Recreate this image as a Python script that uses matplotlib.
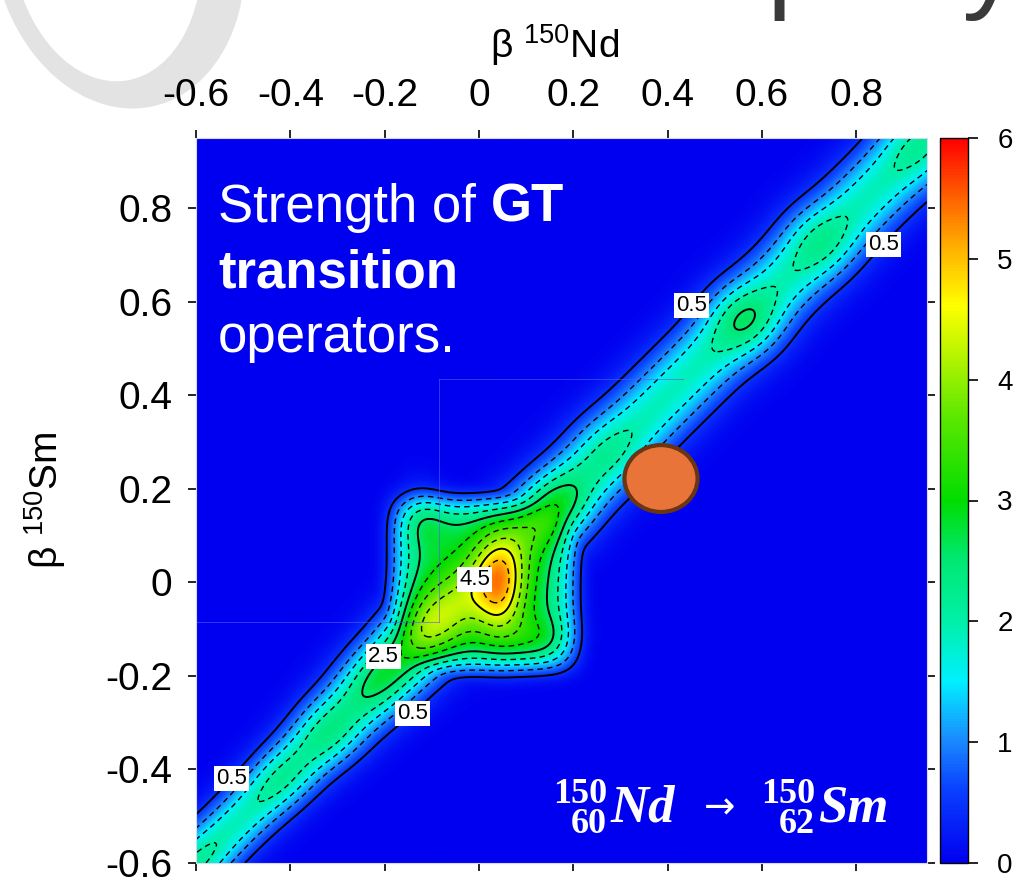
import numpy as np
import matplotlib
matplotlib.use("Agg")
import matplotlib.pyplot as plt
from matplotlib.colors import LinearSegmentedColormap
from matplotlib.patches import Ellipse

# ---------------- data ----------------
x_ticks = [-0.6, -0.4, -0.2, 0, 0.2, 0.4, 0.6, 0.8]
x_tick_labels = ["-0.6", "-0.4", "-0.2", "0", "0.2", "0.4", "0.6", "0.8"]
y_ticks = [-0.6, -0.4, -0.2, 0, 0.2, 0.4, 0.6, 0.8]
y_tick_labels = ["-0.6", "-0.4", "-0.2", "0", "0.2", "0.4", "0.6", "0.8"]
cbar_ticks = [0, 1, 2, 3, 4, 5, 6]
beta_range = [-0.6, 0.95]
dashed_levels = [1.0, 1.5, 2.0, 3.0, 3.5, 4.0, 5.0]
solid_levels = [0.5, 2.5, 4.5]

# diagonal ridge (strength ~1.9) and the local maxima sitting on it
ridge_height = 1.88
ridge_halfwidth_lowleft = 0.062
ridge_halfwidth_upright = 0.082
bump_x = [-0.60, -0.42, -0.32, 0.27, 0.565, 0.72, 0.93]
bump_y = [-0.60, -0.42, -0.32, 0.28, 0.56, 0.73, 0.93]
bump_h = [0.25, 0.30, 0.45, 0.30, 0.72, 0.42, 0.30]

# central plateau around beta ~ 0 (square-shaped, strength ~2.6)
plateau_centre = (0.01, -0.005)
plateau_height = 2.6
plateau_halfwidth = (0.19, 0.18)

# central peaks: x0, y0, height, width along, width across, orientation (deg)
peak_x0 = [-0.03, -0.22, 0.16, 0.045, -0.11, -0.12, 0.13]
peak_y0 = [-0.03, -0.21, 0.16, -0.01, -0.09, 0.15, -0.12]
peak_h = [0.9, 0.6, 0.95, 2.0, 0.85, 0.5, 0.5]
peak_w_along = [0.20, 0.08, 0.08, 0.11, 0.11, 0.07, 0.07]
peak_w_across = [0.08, 0.07, 0.07, 0.055, 0.07, 0.05, 0.05]
peak_angle = [45, 45, 45, 90, 45, 100, 10]

# contour label anchor points
label_pts = {0.5: [(0.86, 0.72), (0.467, 0.58), (-0.139, -0.283), (-0.53, -0.415)],
             2.5: [(-0.203, -0.157)],
             4.5: [(-0.017, 0.01)]}

# ---------------- build surface ----------------
gx = np.linspace(beta_range[0], beta_range[1], 500)
gy = np.linspace(beta_range[0], beta_range[1], 500)
X, Y = np.meshgrid(gx, gy)
U_diag = (X + Y) / np.sqrt(2)
ridge_w = (0.5 * (ridge_halfwidth_lowleft + ridge_halfwidth_upright)
           + 0.5 * (ridge_halfwidth_upright - ridge_halfwidth_lowleft)
           * np.tanh((U_diag + 0.45) / 0.2))


def comp(x0, y0, h, wa, wc, ang, pa=2.0, pc=2.0):
    th = np.deg2rad(ang)
    dx, dy = X - x0, Y - y0
    u = dx * np.cos(th) + dy * np.sin(th)
    v = -dx * np.sin(th) + dy * np.cos(th)
    return h * np.exp(-(np.abs(u) / wa) ** pa - (np.abs(v) / wc) ** pc)


R = comp(0, 0, ridge_height, 1e3, ridge_w, 45)
for bx, by, bh in zip(bump_x, bump_y, bump_h):
    R += comp(bx, by, bh, 0.07, ridge_w, 45)
S = comp(plateau_centre[0], plateau_centre[1], plateau_height,
         plateau_halfwidth[0], plateau_halfwidth[1], 0, 6.5, 6.5)
Z = (R ** 4 + S ** 4) ** (1 / 4)
for args in zip(peak_x0, peak_y0, peak_h, peak_w_along, peak_w_across, peak_angle):
    Z += comp(*args)

cmap = LinearSegmentedColormap.from_list(
    "gt",
    [(0.0, "#0000f0"), (0.1, "#0a40ff"), (0.17, "#1a8cff"), (0.25, "#00f0ff"),
     (0.333, "#00f0a8"), (0.42, "#00e870"), (0.5, "#00dd00"), (0.62, "#60e800"),
     (0.77, "#ffff00"), (0.85, "#ffb000"), (0.92, "#ff6000"), (1.0, "#ff0000")])

plt.rcParams["font.family"] = ["Liberation Sans", "DejaVu Sans"]
plt.rcParams["mathtext.fontset"] = "custom"
plt.rcParams["mathtext.rm"] = "Liberation Sans"
plt.rcParams["mathtext.it"] = "Liberation Sans:italic"
plt.rcParams["mathtext.bf"] = "Liberation Sans:bold"

W, H = 1018, 881
fig = plt.figure(figsize=(W / 100, H / 100), dpi=100)


def fx(px):
    return px / W


def fy(py):
    return 1 - py / H


# background decoration (behind everything)
bg = fig.add_axes([0, 0, 1, 1], zorder=-5)
bg.set_xlim(0, W)
bg.set_ylim(H, 0)
bg.axis("off")
bg.add_patch(Ellipse((118, -55), 250, 330, angle=-12, facecolor="#e3e3e3", edgecolor="none"))
bg.add_patch(Ellipse((106, -58), 190, 280, angle=-8, facecolor="white", edgecolor="none"))
bg.text(767, -3, "perty", fontsize=82, color="#3a3a3a", ha="left", va="baseline")

ax = fig.add_axes([fx(196), fy(863), fx(927) - fx(196), fy(138) - fy(863)])
im = ax.imshow(Z, extent=[beta_range[0], beta_range[1], beta_range[0], beta_range[1]],
               origin="lower", cmap=cmap, vmin=0, vmax=6, interpolation="bilinear",
               aspect="auto")
cs_d = ax.contour(X, Y, Z, levels=dashed_levels, colors="k", linewidths=1.0)
cs_d.set_linestyle((0, (4, 3)))

labels = []
for lev in solid_levels:
    cs = ax.contour(X, Y, Z, levels=[lev], colors="k", linewidths=1.4)
    if lev in label_pts:
        labels += ax.clabel(cs, manual=label_pts[lev], fmt="%.1f", fontsize=16, inline=False)
for t in labels:
    t.set_rotation(0)
    t.set_bbox(dict(facecolor="white", edgecolor="none", pad=1.5))

# faint slide artefact lines
for xs, ys in [([-0.085, -0.085], [-0.085, 0.434]), ([-0.085, 0.432], [0.434, 0.434]),
               ([-0.6, -0.085], [-0.085, -0.085])]:
    ax.plot(xs, ys, color="#5a5aff", lw=0.7, alpha=0.6)

ax.add_patch(Ellipse((0.386, 0.222), 0.155, 0.143, facecolor="#e8743a",
                     edgecolor="#6b3412", lw=3, zorder=5))

ax.set_xlim(beta_range)
ax.set_ylim(beta_range)
ax.set_xticks(x_ticks)
ax.set_xticklabels(x_tick_labels)
ax.set_yticks(y_ticks)
ax.set_yticklabels(y_tick_labels)
ax.tick_params(axis="both", which="both", direction="out", length=6, width=1.2,
               labelsize=28, pad=11, top=True, bottom=True, left=True, right=True,
               labeltop=True, labelbottom=False, labelleft=True, labelright=False)
for s in ax.spines.values():
    s.set_color("#d8d8f0")
    s.set_linewidth(0.8)
ax.set_xlabel("\u03b2 $^{150}$Nd", fontsize=28)
ax.xaxis.set_label_position("top")
ax.xaxis.set_label_coords(0.49, 1.11)
ax.set_ylabel("\u03b2 $^{150}$Sm", fontsize=28)
ax.yaxis.set_label_coords(-0.175, 0.5)

cax = fig.add_axes([fx(940), fy(863), fx(968) - fx(940), fy(138) - fy(863)])
cb = fig.colorbar(im, cax=cax, ticks=cbar_ticks)
cb.outline.set_linewidth(1.0)
cax.tick_params(direction="out", length=7, width=1.2, labelsize=20, pad=14)

# foreground annotations in pixel coordinates
ov = fig.add_axes([0, 0, 1, 1], zorder=10)
ov.set_xlim(0, W)
ov.set_ylim(H, 0)
ov.axis("off")
ov.patch.set_alpha(0)

renderer = fig.canvas.get_renderer()


def seq(x, y, parts):
    for txt, kw in parts:
        t = ov.text(x, y, txt, va="baseline", ha="left", color="white", **kw)
        bb = t.get_window_extent(renderer)
        x += bb.width


seq(218, 222, [("Strength of ", dict(fontsize=38)), ("GT", dict(fontsize=38, fontweight="bold"))])
ov.text(218, 288, "transition", fontsize=38, fontweight="bold", color="white", va="baseline")
ov.text(218, 352, "operators.", fontsize=38, color="white", va="baseline")

dig = dict(fontsize=26, fontweight="bold", family="Liberation Serif", color="white", ha="right", va="baseline")
sym = dict(fontsize=38, fontweight="bold", style="italic", family="Liberation Serif", color="white", ha="left", va="baseline")
ov.text(607, 803, "150", **dig)
ov.text(607, 833, "60", **dig)
ov.text(610, 822, "Nd", **sym)
ov.text(720, 808, "\u2192", fontsize=27, color="white", ha="center", va="center", family="DejaVu Sans")
ov.text(815, 803, "150", **dig)
ov.text(815, 833, "62", **dig)
ov.text(818, 822, "Sm", **sym)

fig.savefig("out.png", dpi=100)
